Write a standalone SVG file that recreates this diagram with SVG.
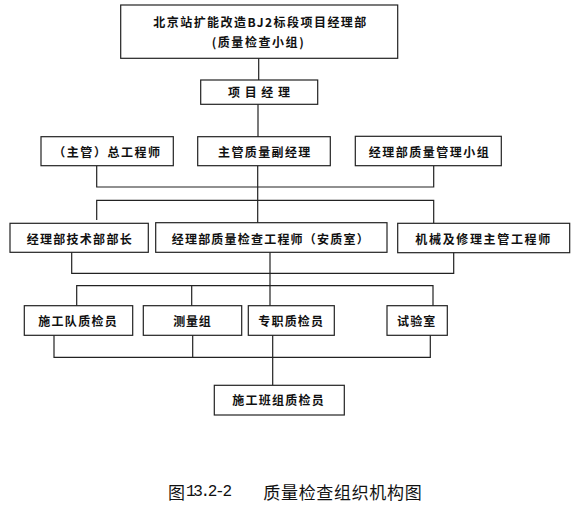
<svg xmlns="http://www.w3.org/2000/svg" width="577" height="510" viewBox="0 0 577 510">
<style>
.box{fill:#fff;stroke:#222;stroke-width:1.2}
.ln{fill:none;stroke:#222;stroke-width:1.2}
.t{font-family:"Noto Sans CJK SC","Noto Sans CJK TC",sans-serif;font-size:12px;font-weight:bold;fill:#111;dominant-baseline:central}
.cap{font-family:"Noto Sans CJK SC","Noto Sans CJK TC",sans-serif;font-size:17px;fill:#111;dominant-baseline:central}
</style>
<rect width="577" height="510" fill="#fff"/>
<g id="connectors">
<path class="ln" d="M258.7,58 V80 M258,104 V137 M257.7,166 V223 M96.7,166 V187 H433.7 V166 M96.7,220 V200.3 H433.7 V223"/>
<path class="ln" d="M71.7,252 V273.3 H453.7 V252 M270,252 V306 M76.7,306 V285.7 H433 V306 M191.7,285.7 V306"/>
<path class="ln" d="M54,335 V357.3 H430.3 V335 M192.7,335 V357.3 M272.7,335 V385.3"/>
</g>
<g id="n1"><rect class="box" x="120.7" y="5" width="277" height="53.3"/><text class="t" x="153.3" y="21.7" textLength="213" lengthAdjust="spacing">北京站扩能改造BJ2标段项目经理部</text><text class="t" x="211.7" y="41.7" textLength="92" lengthAdjust="spacing">(质量检查小组)</text></g>
<g id="n2"><rect class="box" x="200.7" y="80" width="117" height="24.3"/><text class="t" x="228" y="91.7" textLength="62" lengthAdjust="spacing">项目经理</text></g>
<g id="n3"><rect class="box" x="41" y="136.7" width="132.3" height="29"/><text class="t" x="53.3" y="151" textLength="106.7" lengthAdjust="spacing">（主管）总工程师</text></g>
<g id="n4"><rect class="box" x="197.7" y="136.7" width="132.6" height="29"/><text class="t" x="218" y="151" textLength="92.3" lengthAdjust="spacing">主管质量副经理</text></g>
<g id="n5"><rect class="box" x="355.3" y="136.3" width="146" height="29.4"/><text class="t" x="368.7" y="151" textLength="120" lengthAdjust="spacing">经理部质量管理小组</text></g>
<g id="n6"><rect class="box" x="10" y="223.3" width="138.3" height="29"/><text class="t" x="26.7" y="238.3" textLength="105" lengthAdjust="spacing">经理部技术部部长</text></g>
<g id="n7"><rect class="box" x="155.7" y="222.7" width="231.3" height="29.6"/><text class="t" x="171.7" y="238.3" textLength="197" lengthAdjust="spacing">经理部质量检查工程师（安质室）</text></g>
<g id="n8"><rect class="box" x="397.7" y="223.3" width="172" height="29.4"/><text class="t" x="415.3" y="238.3" textLength="135" lengthAdjust="spacing">机械及修理主管工程师</text></g>
<g id="n9"><rect class="box" x="24.3" y="305.7" width="108.4" height="29.6"/><text class="t" x="38.3" y="320.7" textLength="78.4" lengthAdjust="spacing">施工队质检员</text></g>
<g id="n10"><rect class="box" x="143.3" y="305.7" width="98.4" height="29.6"/><text class="t" x="173.3" y="320.7" textLength="37.4" lengthAdjust="spacing">测量组</text></g>
<g id="n11"><rect class="box" x="248.3" y="305.7" width="86" height="29.6"/><text class="t" x="258.3" y="320.7" textLength="64.7" lengthAdjust="spacing">专职质检员</text></g>
<g id="n12"><rect class="box" x="387" y="305.7" width="60.3" height="29.6"/><text class="t" x="397" y="320.7" textLength="38.3" lengthAdjust="spacing">试验室</text></g>
<g id="n13"><rect class="box" x="214.3" y="385.3" width="130" height="29.7"/><text class="t" x="232.3" y="399.3" textLength="91.4" lengthAdjust="spacing">施工班组质检员</text></g>
<g id="caption"><text class="cap" x="168" y="491.7">图</text><text class="cap" x="186" y="491.7" textLength="46" lengthAdjust="spacing" style="font-family:'Liberation Mono',monospace;font-size:16px">13.2-2</text><text class="cap" x="263.3" y="491.7" textLength="158.4" lengthAdjust="spacing">质量检查组织机构图</text></g>
</svg>
